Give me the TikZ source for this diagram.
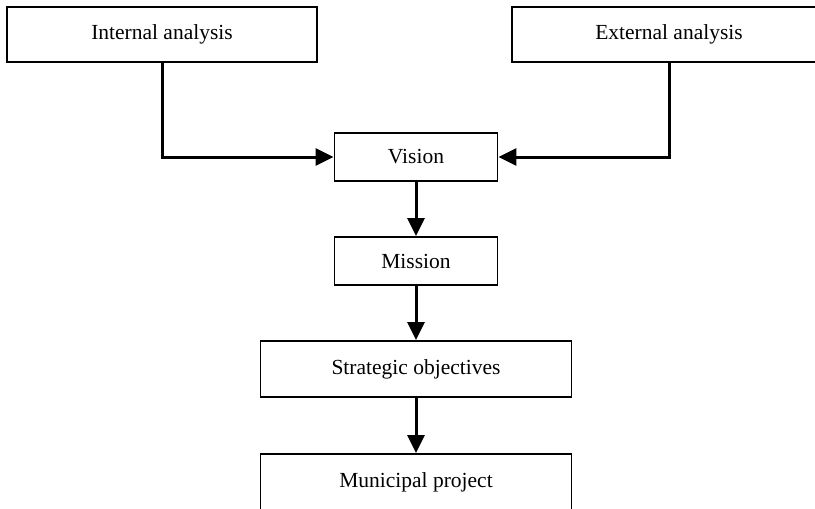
\documentclass[tikz,border=0pt]{standalone}
\usepackage{fontspec}
\setmainfont{Liberation Serif}
\usetikzlibrary{arrows.meta}
\begin{document}
\begin{tikzpicture}[x=1pt,y=-1pt,
  box/.style={draw, line width=1.8pt, inner sep=0pt, font=\fontsize{21.5}{25}\selectfont},
  conn/.style={line width=3pt, -{Triangle[length=18pt,width=17pt]}}]
\useasboundingbox (0,0) rectangle (815,509);
\clip (0,0) rectangle (815,509);
\node[box, minimum width=310pt, minimum height=55pt] (int) at (162,34.5) {Internal analysis};
\node[box, minimum width=314pt, minimum height=55pt] (ext) at (669,34.5) {External analysis};
\node[box, minimum width=163pt, minimum height=48pt] (vis) at (416,157) {Vision};
\node[box, minimum width=163pt, minimum height=48pt] (mis) at (416,261) {Mission};
\node[box, minimum width=311pt, minimum height=56pt] (str) at (416,369) {Strategic objectives};
\node[box, minimum width=311pt, minimum height=56pt] (mun) at (416,482) {Municipal project};
\draw[conn] (int.south) |- (vis.west);
\draw[conn] (ext.south) |- (vis.east);
\draw[conn] (vis.south) -- (mis.north);
\draw[conn] (mis.south) -- (str.north);
\draw[conn] (str.south) -- (mun.north);
\end{tikzpicture}
\end{document}
